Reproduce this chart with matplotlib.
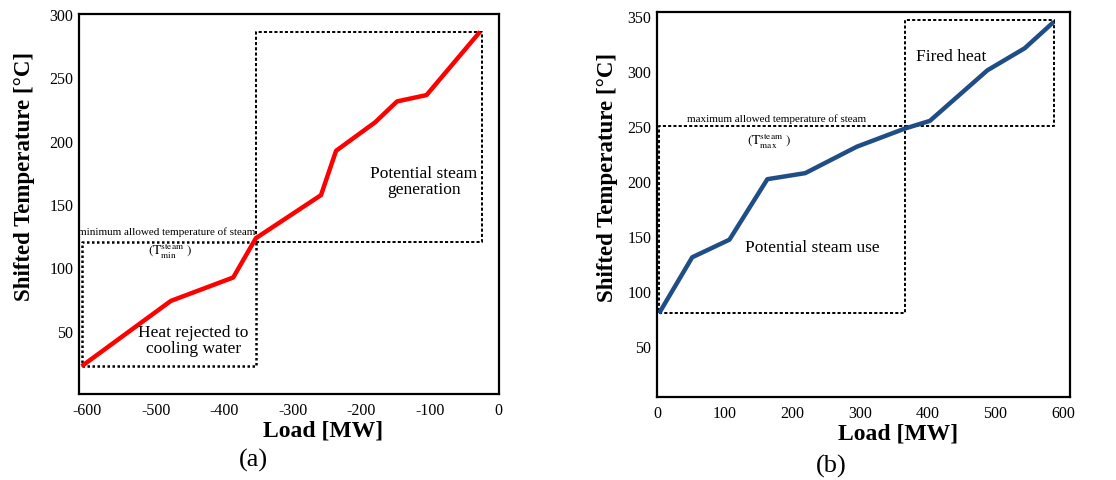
import matplotlib
matplotlib.use("Agg")
import matplotlib.pyplot as plt

plt.rcParams['font.family'] = ['Liberation Serif', 'DejaVu Serif']
plt.rcParams['mathtext.fontset'] = 'stix'
plt.rcParams['axes.unicode_minus'] = False

# ---- data (a): hot composite (shifted) ----
load_a = [-608, -478, -387, -354, -259, -237, -180, -148, -105, -27]
temp_a = [22, 73.5, 92, 123, 157, 192, 214.5, 231, 236, 286]
t_min = 120
box_a_low = [-608, -354, 22, t_min]     # x0, x1, y0, y1
box_a_up = [-354, -24, t_min, 285.5]
xticks_a = [-600, -500, -400, -300, -200, -100, 0]
yticks_a = [50, 100, 150, 200, 250, 300]

# ---- data (b): cold composite (shifted) ----
load_b = [3, 52, 107, 163, 219, 295, 366, 403, 488, 543, 586]
temp_b = [80, 131, 147, 202, 207.5, 231.5, 248, 255, 301, 321, 345]
t_max = 250
box_b_low = [3, 366, 80, t_max]
box_b_up = [366, 586, t_max, 347]
xticks_b = [0, 100, 200, 300, 400, 500, 600]
yticks_b = [50, 100, 150, 200, 250, 300, 350]

fig = plt.figure(figsize=(11.16, 4.81), dpi=100)
ax1 = fig.add_axes([0.0708, 0.1788, 0.3759, 0.79])
ax2 = fig.add_axes([0.5887, 0.1726, 0.3701, 0.8004])

dash = (0, (1.6, 1.1))
dot = (0, (1.0, 1.0))
DLW = 1.4

def style(ax, xt, yt, xl, yl, xlab_pos, ylab_pos):
    ax.set_xlim(*xl)
    ax.set_ylim(*yl)
    ax.set_xticks(xt)
    ax.set_yticks(yt)
    ax.tick_params(length=0, labelsize=11.5)
    ax.tick_params(axis='y', pad=4)
    ax.tick_params(axis='x', pad=6)
    for s in ax.spines.values():
        s.set_linewidth(1.6)
    ax.set_xlabel('Load [MW]', fontsize=17, fontweight='bold')
    ax.set_ylabel('Shifted Temperature [°C]', fontsize=16.5, fontweight='bold')
    ax.xaxis.set_label_coords(*xlab_pos)
    ax.yaxis.set_label_coords(*ylab_pos)

# ---- (a) ----
style(ax1, xticks_a, yticks_a, (-612, 0), (0, 300), (0.582, -0.066), (-0.105, 0.574))
x0, x1, y0, y1 = box_a_low
ax1.plot([x0, x1, x1, x0, x0], [y0, y0, y1, y1, y0], color='black', lw=1.8, linestyle=dot)
x0, x1, y0, y1 = box_a_up
ax1.plot([x0, x1, x1, x0, x0], [y0, y0, y1, y1, y0], color='black', lw=DLW, linestyle=dash)
ax1.plot(load_a, temp_a, color='#FF0000', lw=3.2, solid_capstyle='butt')
ax1.text(-484, 125, 'minimum allowed temperature of steam', fontsize=8, ha='center', va='bottom')
ax1.text(-479, 114, r'$(\mathrm{T}_{\mathrm{min}}^{\mathrm{steam}}\ )$', fontsize=9.5, ha='center', va='center')
ax1.text(-445, 43, 'Heat rejected to\ncooling water', fontsize=12.5, ha='center', va='center', linespacing=1.0)
ax1.text(-109, 168, 'Potential steam\ngeneration', fontsize=12.5, ha='center', va='center', linespacing=1.0)
fig.text(253 / 1116, 1 - 460 / 481, '(a)', fontsize=19, ha='center', va='center')

# ---- (b) ----
style(ax2, xticks_b, yticks_b, (0, 610), (4, 354), (0.5835, -0.065), (-0.095, 0.574))
x0, x1, y0, y1 = box_b_low
ax2.plot([x0, x1, x1, x0, x0], [y0, y0, y1, y1, y0], color='black', lw=DLW, linestyle=dash)
x0, x1, y0, y1 = box_b_up
ax2.plot([x0, x1, x1, x0, x0], [y0, y0, y1, y1, y0], color='black', lw=DLW, linestyle=dash)
ax2.plot(load_b, temp_b, color='#1F4E86', lw=3.2, solid_capstyle='butt')
ax2.text(177, 253, 'maximum allowed temperature of steam', fontsize=8, ha='center', va='bottom')
ax2.text(165, 238, r'$(\mathrm{T}_{\mathrm{max}}^{\mathrm{steam}}\ )$', fontsize=9.5, ha='center', va='center')
ax2.text(230, 140, 'Potential steam use', fontsize=12.5, ha='center', va='center')
ax2.text(435, 314, 'Fired heat', fontsize=12.5, ha='center', va='center')
fig.text(831 / 1116, 1 - 466 / 481, '(b)', fontsize=19, ha='center', va='center')

fig.savefig('out.png', dpi=100)
